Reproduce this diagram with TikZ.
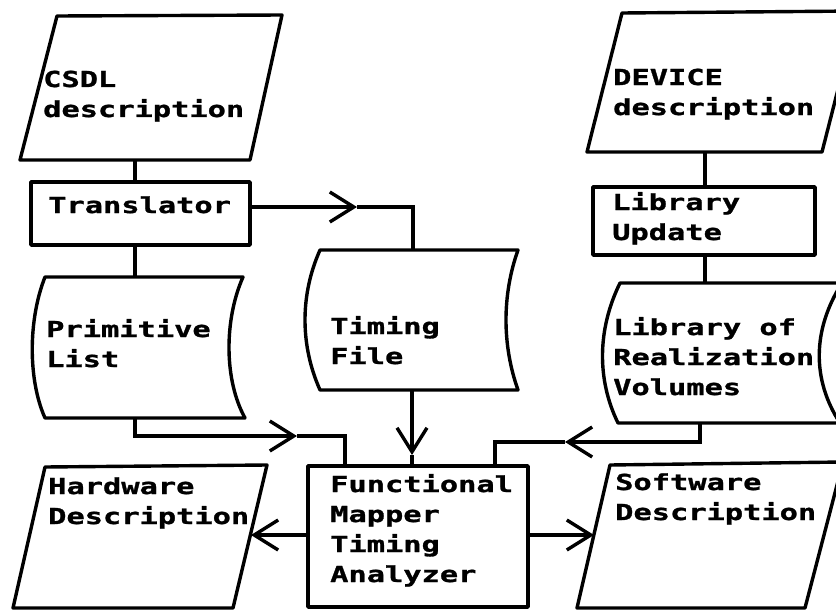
\documentclass[tikz,border=0pt]{standalone}
\usepackage{fontspec}
\newfontfamily\plotfont{DejaVu Sans Mono}[FakeStretch=1.38, BoldFeatures={FakeBold=1.2}]
\usetikzlibrary{arrows.meta}
\tikzset{
  shp/.style={line width=3.4pt, line join=round, line cap=round},
  conn/.style={line width=3.4pt},
  barb/.style={conn, -{Straight Barb[length=24pt,width=30pt]}},
  lbl/.style={anchor=base west, inner sep=0pt, align=left,
    font=\plotfont\bfseries\fontsize{22}{30}\selectfont},
}
\begin{document}
\begin{tikzpicture}[x=1pt,y=-1pt]
\useasboundingbox (0,0) rectangle (836,610);
\clip (0,0) rectangle (836,610);
\fill[white] (0,0) rectangle (836,610);

% CSDL description (parallelogram)
\draw[shp] (57,16) -- (282,15) -- (250,160) -- (20,160) -- cycle;
\coordinate (csdlB) at (135,160);
\node[lbl] (csdlT) at (43,117) {CSDL\\description};

% Translator
\draw[shp] (31,182) rectangle (250,245);
\coordinate (trT) at (135,182);
\coordinate (trB) at (135,245);
\coordinate (trR) at (250,207);
\node[lbl] (trX) at (48,213) {Translator};

% Primitive List (tape)
\draw[shp] (45,277) -- (243,277) .. controls (224,320) and (224,380) .. (245,418)
  -- (45,418) .. controls (28,380) and (28,320) .. cycle;
\coordinate (plT) at (135,277);
\coordinate (plB) at (135,418);
\node[lbl] (plX) at (46,367) {Primitive\\List};

% Timing File (tape)
\draw[shp] (320,250) -- (518,250) .. controls (502,295) and (502,345) .. (518,390)
  -- (320,390) .. controls (300,345) and (300,295) .. cycle;
\coordinate (tfT) at (413,250);
\coordinate (tfB) at (412,390);
\node[lbl] (tfX) at (330,364) {Timing\\File};

% DEVICE description (parallelogram)
\draw[shp] (622,13) -- (858,11) -- (822,152) -- (587,152) -- cycle;
\coordinate (devB) at (705,152);
\node[lbl] (devX) at (613,115) {DEVICE\\description};

% Library Update
\draw[shp] (593,187) rectangle (815,255);
\coordinate (luT) at (705,187);
\coordinate (luB) at (705,255);
\node[lbl] (luX) at (612,240) {Library\\Update};

% Library of Realization Volumes (tape)
\draw[shp] (620,283) -- (842,283) .. controls (812,330) and (812,380) .. (840,423)
  -- (618,423) .. controls (597,380) and (597,330) .. cycle;
\coordinate (lrT) at (705,283);
\coordinate (lrB) at (700,423);
\node[lbl] (lrX) at (613,395) {Library of\\Realization\\Volumes};

% Functional Mapper Timing Analyzer
\draw[shp] (308,466) rectangle (528,607);
\coordinate (fmL) at (308,535);
\coordinate (fmR) at (528,535);
\coordinate (fmA) at (345,466);
\coordinate (fmB) at (412,466);
\coordinate (fmC) at (495,466);
\node[lbl] (fmX) at (330,582) {Functional\\Mapper\\Timing\\Analyzer};

% Hardware Description (parallelogram)
\draw[shp] (45,467) -- (267,465) -- (233,608) -- (13,608) -- cycle;
\coordinate (hwR) at (251,535);
\node[lbl] (hwX) at (48,524) {Hardware\\Description};

% Software Description (parallelogram)
\draw[shp] (610,465) -- (843,462) -- (805,608) -- (577,608) -- cycle;
\coordinate (swL) at (594,535);
\node[lbl] (swX) at (615,520) {Software\\Description};

% connectors
\draw[conn] (csdlB) -- (trT);
\draw[conn] (trB) -- (plT);
\coordinate (m1) at (357,207);
\draw[barb] (trR) -- (m1);
\draw[conn] (m1) -- (tfT |- m1) -- (tfT);
\draw[conn] (devB) -- (luT);
\draw[conn] (luB) -- (lrT);

\coordinate (m2) at (297,436);
\draw[barb] (plB) -- (plB |- m2) -- (m2);
\draw[conn] (m2) -- (fmA |- m2) -- (fmA);

\coordinate (m3) at (412,455);
\draw[barb] (tfB) -- (m3);
\draw[conn] (m3) -- (fmB);

\coordinate (m4) at (565,442);
\draw[barb] (lrB) -- (lrB |- m4) -- (m4);
\draw[conn] (m4) -- (fmC |- m4) -- (fmC);

\draw[barb] (fmL) -- (hwR);
\draw[barb] (fmR) -- (swL);
\end{tikzpicture}
\end{document}
